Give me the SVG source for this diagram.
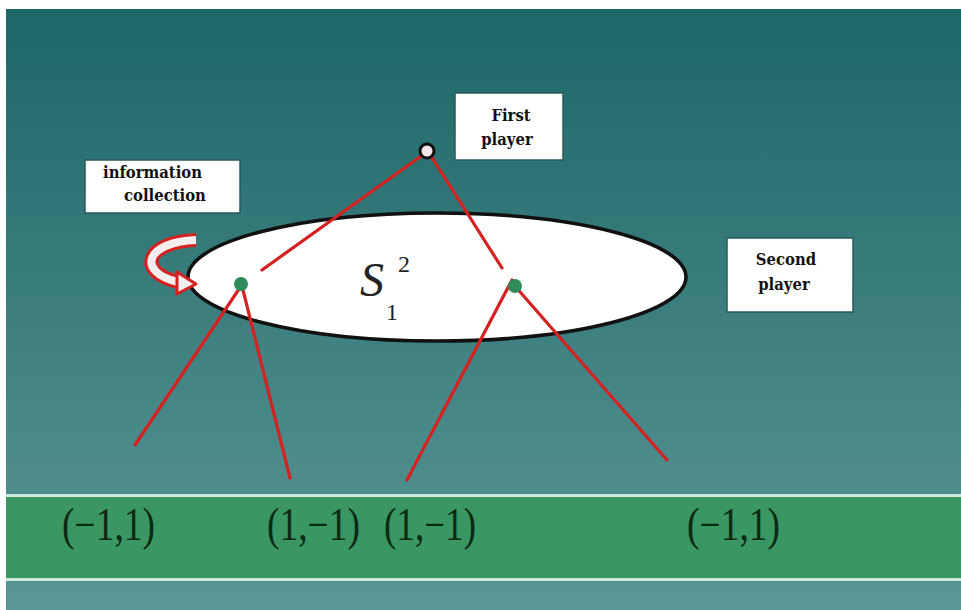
<svg xmlns="http://www.w3.org/2000/svg" width="961" height="610" viewBox="0 0 961 610">
<defs>
<linearGradient id="bg" x1="0" y1="0" x2="0" y2="1">
<stop offset="0" stop-color="#1d6767"/>
<stop offset="0.5" stop-color="#3c7e7e"/>
<stop offset="1" stop-color="#5c9797"/>
</linearGradient>
<style>
.box{fill:#ffffff;stroke:#2a5a5a;stroke-width:1.5}
.lbl{font-family:'DejaVu Serif Condensed','DejaVu Serif','Liberation Serif',serif;font-weight:bold;font-size:16.5px;fill:#111}
.pay{font-family:'Liberation Serif','Times New Roman',serif;font-size:46px;fill:#0d2a14}
.math{font-family:'Liberation Serif','Times New Roman',serif;fill:#222}
.edge{stroke:#d42222;stroke-width:3.2;fill:none;stroke-linecap:round}
.dot{fill:#2e8c5a}
</style>
</defs>
<rect x="0" y="0" width="961" height="610" fill="#ffffff"/>
<rect x="6" y="9" width="955" height="601" fill="url(#bg)"/>
<rect x="6" y="494" width="955" height="3" fill="#cfe8dc"/>
<rect x="6" y="497" width="955" height="81" fill="#3a9763"/>
<rect x="6" y="578" width="955" height="3" fill="#cfe8dc"/>

<g id="info-set">
<ellipse cx="437" cy="277" rx="249" ry="64" fill="#ffffff" stroke="#111" stroke-width="3.5"/>
<text class="math" x="360" y="296" font-style="italic" font-size="48">S</text>
<text class="math" x="386" y="320" font-size="24">1</text>
<text class="math" x="398" y="272" font-size="24">2</text>
</g>

<g id="connectors">
<line class="edge" x1="424" y1="154" x2="262" y2="270"/>
<line class="edge" x1="431" y1="156" x2="502" y2="268"/>
<line class="edge" x1="241" y1="286" x2="135" y2="445"/>
<line class="edge" x1="242" y1="286" x2="290" y2="478"/>
<line class="edge" x1="512" y1="280" x2="407" y2="480"/>
<line class="edge" x1="514" y1="285" x2="667" y2="460"/>
</g>

<g id="first-player-node">
<circle cx="427" cy="151" r="7" fill="#f4e6e6" stroke="#111" stroke-width="3"/>
</g>
<g id="second-player-left">
<circle class="dot" cx="241" cy="284" r="7"/>
</g>
<g id="second-player-right">
<circle class="dot" cx="515" cy="286" r="7"/>
</g>

<g id="info-arrow">
<path d="M 196 240 C 145 242, 136 272, 178 282" fill="none" stroke="#d42222" stroke-width="14" stroke-linecap="butt"/>
<path d="M 196 240 C 145 242, 136 272, 178 282" fill="none" stroke="#f4eded" stroke-width="8"/>
<polygon points="177,272 177,294 196,284" fill="#f4eded" stroke="#d42222" stroke-width="3" stroke-linejoin="round"/>
</g>

<g id="first-player-label">
<rect class="box" x="455" y="93" width="108" height="67"/>
<text class="lbl" x="511" y="121" text-anchor="middle">First</text>
<text class="lbl" x="507" y="145" text-anchor="middle">player</text>
</g>
<g id="info-label">
<rect class="box" x="85" y="160" width="155" height="53"/>
<text class="lbl" x="103" y="178">information</text>
<text class="lbl" x="124" y="201">collection</text>
</g>
<g id="second-player-label">
<rect class="box" x="727" y="238" width="126" height="74"/>
<text class="lbl" x="786" y="265" text-anchor="middle">Second</text>
<text class="lbl" x="784" y="290" text-anchor="middle">player</text>
</g>

<g id="payoffs">
<text class="pay" x="62" y="540" textLength="93" lengthAdjust="spacingAndGlyphs">(−1,1)</text>
<text class="pay" x="267" y="540" textLength="93" lengthAdjust="spacingAndGlyphs">(1,−1)</text>
<text class="pay" x="384" y="540" textLength="92" lengthAdjust="spacingAndGlyphs">(1,−1)</text>
<text class="pay" x="687" y="540" textLength="93" lengthAdjust="spacingAndGlyphs">(−1,1)</text>
</g>
</svg>
